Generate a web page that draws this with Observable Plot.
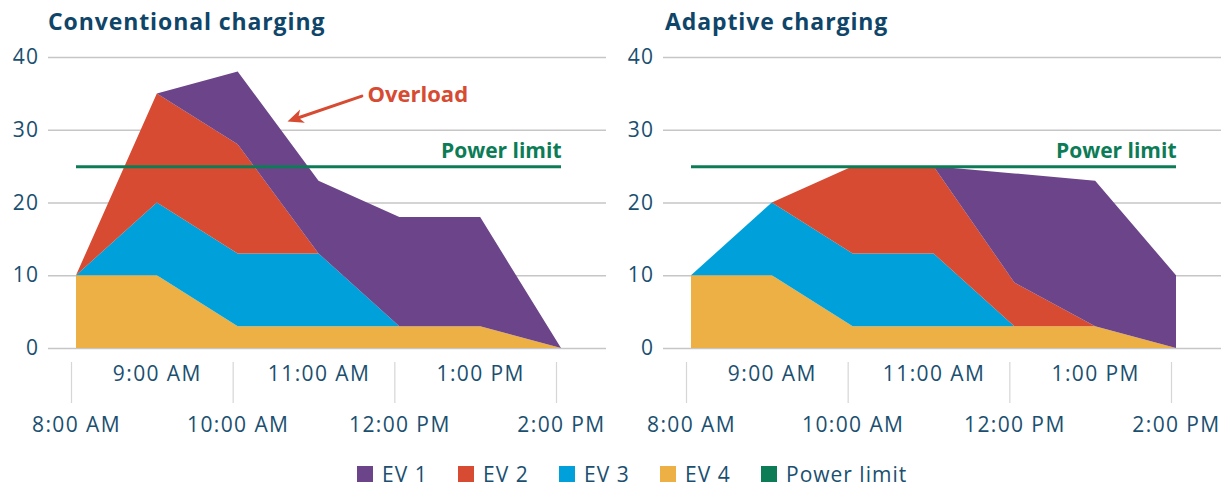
<!DOCTYPE html>
<html>
<head>
<meta charset="utf-8">
<script src="https://cdn.jsdelivr.net/npm/d3@7"></script>
<script src="https://cdn.jsdelivr.net/npm/@observablehq/plot@0.6"></script>
<style>
  body { margin: 0; width: 1230px; height: 486px; background: #fff; font-family: "Open Sans", sans-serif; position: relative; overflow: hidden; }
  #row { display: flex; }
  .panel { width: 615px; }
  .title { height: 36px; box-sizing: border-box; padding-top: 6px; line-height: 30px; font-size: 23px; font-weight: 700; letter-spacing: 0.9px; color: #0e4568; white-space: nowrap; }
  #legend { position: absolute; top: 463px; left: 357px; display: flex; align-items: center; font-size: 21px; line-height: 22px; letter-spacing: 1px; color: #1a4f70; }
  .item { display: flex; align-items: center; width: 101px; white-space: nowrap; }
  .item:last-child { width: auto; }
  .sw { width: 16px; height: 16px; margin-right: 9px; flex: none; }
  svg [aria-label$="tick label"] { letter-spacing: 1.4px; }
</style>
</head>
<body>
<div id="row">
  <div class="panel"><div class="title" style="padding-left:48px">Conventional charging</div><div id="p1"></div></div>
  <div class="panel"><div class="title" style="padding-left:50px">Adaptive charging</div><div id="p2"></div></div>
</div>
<div id="legend"></div>
<script>
// ---- data ----
const hours = [8, 9, 10, 11, 12, 13, 14];
const hourLabels = ["8:00 AM", "9:00 AM", "10:00 AM", "11:00 AM", "12:00 PM", "1:00 PM", "2:00 PM"];
const seriesNames = ["EV 1", "EV 2", "EV 3", "EV 4"];
const seriesColors = ["#6c4489", "#d64b31", "#00a1db", "#ecb044"];
const powerColor = "#0c7c56";
const yTicks = [0, 10, 20, 30, 40];
const topRowTicks = [9, 11, 13];
const bottomRowTicks = [8, 10, 12, 14];

const convEV1 = [0, 0, 10, 10, 15, 15, 0];
const convEV2 = [0, 15, 15, 0, 0, 0, 0];
const convEV3 = [0, 10, 10, 10, 0, 0, 0];
const convEV4 = [10, 10, 3, 3, 3, 3, 0];

const adaptEV1 = [0, 0, 0, 0, 15, 20, 10];
const adaptEV2 = [0, 0, 12, 12, 6, 0, 0];
const adaptEV3 = [0, 10, 10, 10, 0, 0, 0];
const adaptEV4 = [10, 10, 3, 3, 3, 3, 0];

const powerLimit = 25;
const overloadLabel = {x: 11.6, y: 34.8, text: "Overload"};
const overloadArrow = {x1: 11.53, y1: 34.7, x2: 10.61, y2: 31.2};

// ---- helpers ----
const labelOf = h => hourLabels[hours.indexOf(h)];
function toLong(cols) {
  // bottom-first order: EV 4, EV 3, EV 2, EV 1
  const rows = [];
  const order = [3, 2, 1, 0];
  for (const k of order) hours.forEach((h, i) => rows.push({hour: h, series: seriesNames[k], value: cols[k][i]}));
  return rows;
}
const arrowHead = {
  draw(ctx) {
    const L = 16, W = 7;
    ctx.moveTo(0, 0);
    ctx.lineTo(-L, -W);
    ctx.lineTo(-L * 0.72, 0);
    ctx.lineTo(-L, W);
    ctx.closePath();
  }
};

function chart(cols, annotate) {
  const data = toLong(cols);
  const marks = [
    Plot.ruleY(yTicks, {stroke: "#c6c6c6", strokeWidth: 1.5}),
    Plot.areaY(data, {x: "hour", y: "value", fill: "series", z: "series", order: ["EV 4", "EV 3", "EV 2", "EV 1"]}),
    Plot.ruleY([powerLimit], {x1: hours[0], x2: hours[hours.length - 1], stroke: powerColor, strokeWidth: 3}),
    Plot.text([powerLimit], {x: hours[hours.length - 1], y: d => d, text: () => "Power limit", textAnchor: "end", dy: -15, fill: powerColor, fontWeight: 700, fontSize: 21}),
    Plot.ruleX(bottomRowTicks, {x: d => d, stroke: "#d6d6d6", strokeWidth: 1.2, dx: -5, insetTop: 305, insetBottom: -55}),
    Plot.axisY({ticks: yTicks, tickSize: 0, tickPadding: 9, label: null, fontSize: 21}),
    Plot.axisX({ticks: topRowTicks, tickSize: 0, tickPadding: 18, tickFormat: labelOf, label: null, fontSize: 21}),
    Plot.axisX({ticks: bottomRowTicks, tickSize: 0, tickPadding: 69, tickFormat: labelOf, label: null, fontSize: 21})
  ];
  if (annotate) {
    marks.push(
      Plot.arrow([overloadArrow], {x1: "x1", y1: "y1", x2: "x2", y2: "y2", stroke: "#d64b31", strokeWidth: 3, headLength: 0, insetEnd: 10}),
      Plot.dot([overloadArrow], {x: "x2", y: "y2", symbol: arrowHead, fill: "#d64b31", stroke: "none", rotate: 160}),
      Plot.text([overloadLabel], {x: "x", y: "y", text: "text", textAnchor: "start", fill: "#d64b31", fontWeight: 700, fontSize: 22})
    );
  }
  return Plot.plot({
    width: 615,
    height: 400,
    marginTop: 21,
    marginBottom: 88,
    marginLeft: 48,
    marginRight: 9,
    style: {fontFamily: "'Open Sans', sans-serif", fontSize: "21px", color: "#1a4f70", background: "transparent", overflow: "visible"},
    x: {domain: [hours[0], hours[hours.length - 1]], insetLeft: 28, insetRight: 45},
    y: {domain: [0, 40]},
    color: {domain: seriesNames, range: seriesColors},
    marks
  });
}

document.getElementById("p1").append(chart([convEV1, convEV2, convEV3, convEV4], true));
document.getElementById("p2").append(chart([adaptEV1, adaptEV2, adaptEV3, adaptEV4], false));

// legend
const legend = document.getElementById("legend");
const legendItems = seriesNames.map((n, i) => ({name: n, color: seriesColors[i]})).concat([{name: "Power limit", color: powerColor}]);
for (const it of legendItems) {
  const el = document.createElement("div");
  el.className = "item";
  const sw = document.createElement("div");
  sw.className = "sw";
  sw.style.background = it.color;
  const tx = document.createElement("span");
  tx.textContent = it.name;
  el.append(sw, tx);
  legend.append(el);
}
</script>
</body>
</html>
